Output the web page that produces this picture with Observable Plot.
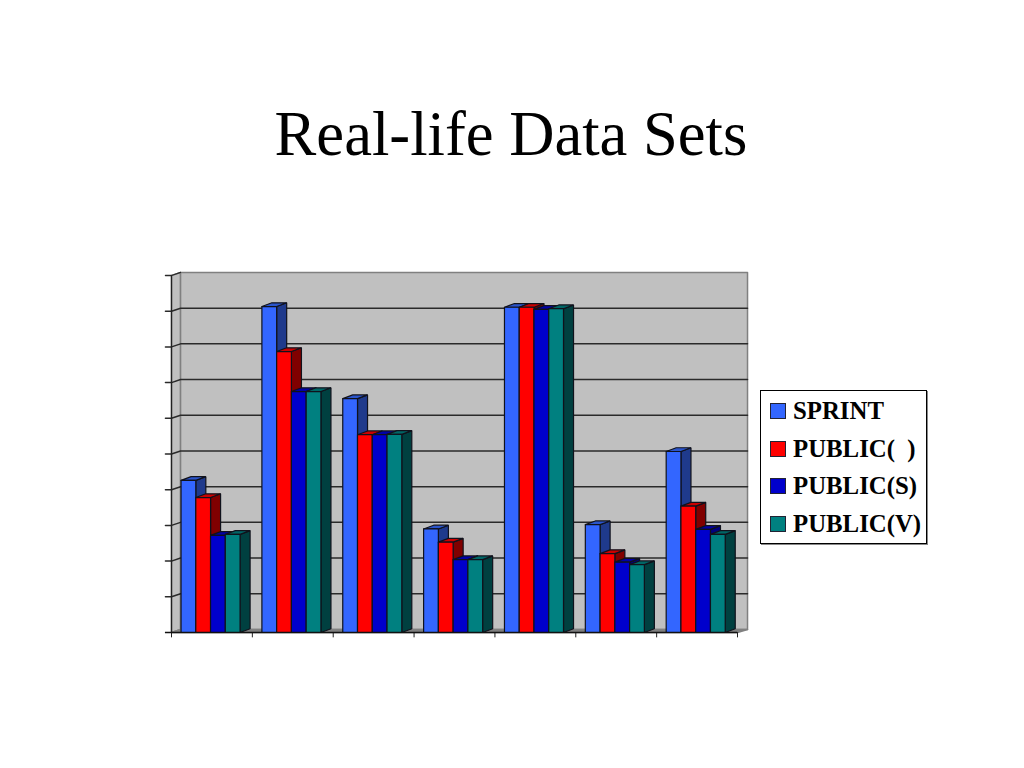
<!DOCTYPE html>
<html>
<head>
<meta charset="utf-8">
<script src="https://cdn.jsdelivr.net/npm/d3@7"></script>
<script src="https://cdn.jsdelivr.net/npm/@observablehq/plot@0.6"></script>
<style>
html,body{margin:0;padding:0;background:#fff;width:1024px;height:768px;overflow:hidden}
#wrap{position:relative;width:1024px;height:768px}
#title{position:absolute;left:0;width:1022px;top:96px;text-align:center;font:62.6px/76px "Liberation Serif",serif;color:#000}
#chart{position:absolute;left:0;top:240px}
#chart svg{display:block}
#legend{position:absolute;left:760px;top:390px;width:165px;height:152px;border:1px solid #000;box-shadow:1px 1px 0 #888;background:#fff;box-sizing:content-box}
.row{position:absolute;left:0;height:30px;white-space:pre;font:bold 24.8px/30px "Liberation Serif",serif;color:#000}
.sw{position:absolute;left:9px;top:7px;width:14px;height:14px;border:1px solid #223}
.lb{position:absolute;left:32px;top:0}
</style>
</head>
<body>
<div id="wrap">
<div id="title">Real-life Data Sets</div>
<div id="chart"></div>
<div id="legend"></div>
</div>
<script>
const seriesNames = ["SPRINT", "PUBLIC(  )", "PUBLIC(S)", "PUBLIC(V)"];
const frontColors = ["#3366ff", "#ff0000", "#0000cc", "#008080"];
const sideColors = ["#1f3a8c", "#800000", "#000080", "#004040"];
const topColors = ["#2b55cc", "#cc0000", "#0000a8", "#006666"];
const sprint = [4.26, 9.13, 6.55, 2.90, 9.11, 3.02, 5.07];
const publicBlank = [3.78, 7.87, 5.54, 2.53, 9.11, 2.21, 3.54];
const publicS = [2.72, 6.75, 5.54, 2.04, 9.05, 1.97, 2.89];
const publicV = [2.75, 6.75, 5.55, 2.04, 9.07, 1.90, 2.75];
const series = [sprint, publicBlank, publicS, publicV];
const gridValues = [1,2,3,4,5,6,7,8,9];
const groupEdges = [0,1,2,3,4,5,6,7];
const depthX = 0.112, depthY = 0.105, wallDepthY = 0.085, inset = 0.118, barW = 0.1825, tickX = 0.075, tickY = 0.15;
const wallRight = 7.124;

const polys = [];
let id = 0;
function poly(pts, fill){ id++; pts.concat([pts[0]]).forEach(p => polys.push({id, x:p[0], y:p[1], fill})); }
series[0].forEach((_, g) => {
  series.forEach((vals, s) => {
    const v = vals[g], x0 = g + inset + s * barW, x1 = x0 + barW;
    poly([[x1,0],[x1+0.124,depthY],[x1+0.124,v+depthY],[x1,v]], sideColors[s]);
    poly([[x0,v],[x0+0.124,v+depthY],[x1+0.124,v+depthY],[x1,v]], topColors[s]);
    poly([[x0,0],[x1,0],[x1,v],[x0,v]], frontColors[s]);
  });
});

const grid = [];
gridValues.forEach(v => {
  [[-tickX,v],[0,v],[depthX,v+wallDepthY],[wallRight,v+wallDepthY]].forEach(p => grid.push({v, x:p[0], y:p[1]}));
});
const topTick = [[-tickX,10],[0,10],[depthX,10+wallDepthY]].map(p=>({x:p[0],y:p[1]}));
const wall = [[depthX,wallDepthY],[wallRight,wallDepthY],[wallRight,10+wallDepthY],[depthX,10+wallDepthY],[depthX,wallDepthY]].map(p=>({x:p[0],y:p[1]}));
const side = [[0,0],[depthX,wallDepthY],[depthX,10+wallDepthY],[0,10],[0,0]].map(p=>({x:p[0],y:p[1]}));
const floor = [[0,0],[7,0],[wallRight,wallDepthY],[depthX,wallDepthY],[0,0]].map(p=>({x:p[0],y:p[1]}));

const chart = Plot.plot({
  width: 1024, height: 420,
  marginLeft: 171, marginRight: 287, marginTop: 35, marginBottom: 28,
  x: {domain: [0, 7], axis: null},
  y: {domain: [0, 10], axis: null},
  marks: [
    Plot.line(side, {x:"x", y:"y", fill:"#c0c0c0", stroke:"#808080", strokeWidth:1.5}),
    Plot.line(wall, {x:"x", y:"y", fill:"#c0c0c0", stroke:"#808080", strokeWidth:1.5}),
    Plot.line(floor, {x:"x", y:"y", fill:"#808080", stroke:"#808080"}),
    Plot.line(grid, {x:"x", y:"y", z:"v", stroke:"#2a2a2a", strokeWidth:1.5}),
    Plot.line(topTick, {x:"x", y:"y", stroke:"#2a2a2a", strokeWidth:1.3}),
    Plot.ruleX(groupEdges, {y1:-tickY, y2:0, stroke:"#222", strokeWidth:1}),
    Plot.line(polys, {x:"x", y:"y", z:"id", fill:"fill", stroke:"#10121c", strokeWidth:1.2, strokeLinejoin:"miter"}),
    Plot.ruleX([0], {y1:0, y2:10, stroke:"#222", strokeWidth:1.3}),
    Plot.ruleY([0], {x1:-tickX, x2:7, stroke:"#111", strokeWidth:1.3})
  ]
});
document.getElementById("chart").appendChild(chart);

const legend = document.getElementById("legend");
const rowTops = [5, 43, 80, 118];
seriesNames.forEach((name, i) => {
  const r = document.createElement("div");
  r.className = "row"; r.style.top = rowTops[i] + "px";
  const sw = document.createElement("div");
  sw.className = "sw"; sw.style.background = frontColors[i];
  const lb = document.createElement("div");
  lb.className = "lb"; lb.textContent = name;
  r.append(sw, lb);
  legend.append(r);
});
</script>
</body>
</html>
